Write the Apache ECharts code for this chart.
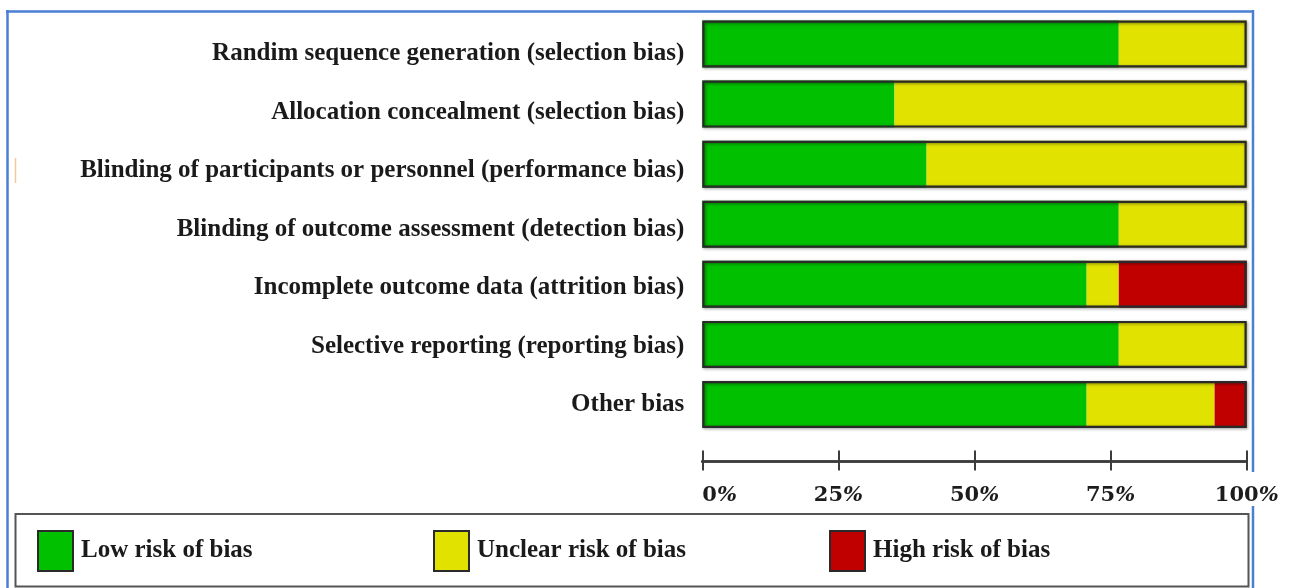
<!DOCTYPE html>
<html>
<head>
<meta charset="utf-8">
<script src="https://cdn.jsdelivr.net/npm/echarts@6/dist/echarts.min.js"></script>
<style>
  html, body { margin: 0; padding: 0; background: #ffffff; }
  #chart { width: 1290px; height: 588px; }
</style>
</head>
<body>
<div id="chart"></div>
<script>
// ---- data ----
const categories = [
  'Randim sequence generation (selection bias)',
  'Allocation concealment (selection bias)',
  'Blinding of participants or personnel (performance bias)',
  'Blinding of outcome assessment (detection bias)',
  'Incomplete outcome data (attrition bias)',
  'Selective reporting (reporting bias)',
  'Other bias'
];
const lowRisk     = [76.5, 35.3, 41.2, 76.5, 70.6, 76.5, 70.6];
const unclearRisk = [23.5, 64.7, 58.8, 23.5,  5.9, 23.5, 23.5];
const highRisk    = [ 0.0,  0.0,  0.0,  0.0, 23.5,  0.0,  5.9];
const xTickValues = [0, 25, 50, 75, 100];
const legendNames = ['Low risk of bias', 'Unclear risk of bias', 'High risk of bias'];
const seriesColors = ['#00c000', '#e2e200', '#c00000'];

// ---- chart ----
const chart = echarts.init(document.getElementById('chart'), null, { renderer: 'canvas' });
const serif = "'Liberation Serif', 'Times New Roman', serif";
const totals = lowRisk.map((v, i) => v + unclearRisk[i] + highRisk[i]);
const seriesValues = [lowRisk, unclearRisk, highRisk];
const axisColor = '#3c3c3c';
const barW = 47;

const series = legendNames.map((name, i) => ({
  name: name,
  type: 'bar',
  stack: 'risk',
  xAxisIndex: 0,
  yAxisIndex: 0,
  barWidth: barW,
  barGap: '-100%',
  data: seriesValues[i],
  itemStyle: { color: seriesColors[i] },
  silent: true
}));
series.push({
  name: 'outline',
  type: 'bar',
  xAxisIndex: 0,
  yAxisIndex: 0,
  barWidth: barW,
  barGap: '-100%',
  z: 5,
  data: totals,
  itemStyle: {
    color: 'rgba(0,0,0,0)',
    borderColor: '#2a2a2a',
    borderWidth: 2.2,
    shadowBlur: 3,
    shadowColor: 'rgba(0,0,0,0.45)',
    shadowOffsetX: 1,
    shadowOffsetY: 1
  },
  silent: true
});

const legendLefts = [32, 428, 824];
const legends = legendNames.map((n, i) => ({
  data: [n],
  left: legendLefts[i],
  top: 525,
  orient: 'horizontal',
  itemWidth: 35,
  itemHeight: 40,
  icon: 'rect',
  selectedMode: false,
  itemStyle: { borderColor: '#2a2a2a', borderWidth: 2 },
  textStyle: { fontFamily: serif, fontWeight: 'bold', fontSize: 25, color: '#1a1a1a', padding: [0, 0, 0, 3] }
}));

const frameColor = '#4a7fd4';
const option = {
  backgroundColor: '#ffffff',
  animation: false,
  grid: [
    { left: 702.3, right: 43.3, top: 14, height: 420.5, containLabel: false },
    { left: 702.3, right: 43.3, top: 24.5, height: 409.5, containLabel: false }
  ],
  legend: legends,
  xAxis: [
    {
      type: 'value', gridIndex: 0, min: 0, max: 100, interval: 25, position: 'bottom', offset: 27,
      axisLine: { show: true, lineStyle: { color: axisColor, width: 2.5 } },
      axisTick: { show: true, length: 9, lineStyle: { color: axisColor, width: 2 } },
      splitLine: { show: false },
      axisLabel: {
        margin: 23,
        alignMinLabel: 'left',
        formatter: v => '{d|' + v + '}{p|%}',
        rich: {
          d: { fontFamily: "'DejaVu Serif', serif", fontWeight: 'bold', fontSize: 21, color: '#1c1c1c', lineHeight: 22 },
          p: { fontFamily: "'DejaVu Serif', serif", fontWeight: 'bold', fontStyle: 'italic', fontSize: 21, color: '#1c1c1c', lineHeight: 22 }
        }
      }
    },
    {
      type: 'value', gridIndex: 0, min: 0, max: 100, interval: 25, position: 'bottom', offset: 27,
      axisLine: { show: true, lineStyle: { color: axisColor, width: 2.5 } },
      axisTick: { show: true, inside: true, length: 11, lineStyle: { color: axisColor, width: 2 } },
      splitLine: { show: false },
      axisLabel: { show: false }
    },
    {
      type: 'value', gridIndex: 1, min: 0, max: 100, show: false
    }
  ],
  yAxis: [
    {
      type: 'category',
      gridIndex: 0,
      data: categories,
      inverse: true,
      axisLine: { show: false },
      axisTick: { show: false },
      splitLine: { show: false },
      axisLabel: { show: false }
    },
    {
      type: 'category',
      gridIndex: 1,
      data: categories,
      inverse: true,
      axisLine: { show: false },
      axisTick: { show: false },
      splitLine: { show: false },
      axisLabel: { margin: 18, fontFamily: serif, fontWeight: 'bold', fontSize: 25, color: '#1a1a1a' }
    }
  ],
  series: series,
  graphic: [
    { type: 'line', shape: { x1: 6, y1: 11.5, x2: 1254, y2: 11.5 }, style: { stroke: frameColor, lineWidth: 2.5 }, silent: true },
    { type: 'line', shape: { x1: 7.5, y1: 10, x2: 7.5, y2: 588 }, style: { stroke: frameColor, lineWidth: 2.5 }, silent: true },
    { type: 'line', shape: { x1: 1253, y1: 10, x2: 1253, y2: 472 }, style: { stroke: frameColor, lineWidth: 2.5 }, silent: true },
    { type: 'line', shape: { x1: 1253, y1: 506, x2: 1253, y2: 588 }, style: { stroke: frameColor, lineWidth: 2.5 }, silent: true },
    { type: 'line', shape: { x1: 15.5, y1: 158, x2: 15.5, y2: 183 }, style: { stroke: '#f3c89c', lineWidth: 1.5 }, silent: true },
    { type: 'rect', shape: { x: 15.5, y: 514, width: 1233, height: 72.5 }, style: { fill: 'none', stroke: '#555555', lineWidth: 2 }, z: 10, silent: true }
  ]
};
chart.setOption(option);
</script>
</body>
</html>
